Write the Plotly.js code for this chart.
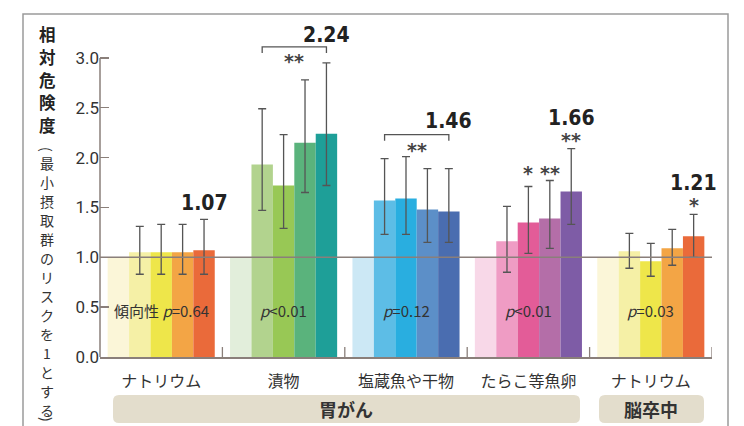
<!DOCTYPE html>
<html><head><meta charset="utf-8">
<script src="https://cdn.plot.ly/plotly-3.0.1.min.js"></script>
<style>html,body{margin:0;padding:0;background:#fff;}#chart{width:744px;height:426px;}</style>
</head><body><div id="chart"></div>
<script>
// ---- data ----
const groupLabels = ['ナトリウム', '漬物', '塩蔵魚や干物', 'たらこ等魚卵', 'ナトリウム'];
const diseases = ['胃がん', '脳卒中'];
const titleMain = '相対危険度';
const titleNote = '最小摂取群のリスクを1とする';
const trendText = ['傾向性 <i>p</i>=0.64', '<i>p</i>&lt;0.01', '<i>p</i>=0.12', '<i>p</i>&lt;0.01', '<i>p</i>=0.03'];
// relative risk by intake quintile (q1 = reference)
const q1 = [1.00, 1.00, 1.00, 1.00, 1.00];
const q2 = [1.05, 1.93, 1.57, 1.16, 1.06];
const q3 = [1.05, 1.72, 1.59, 1.35, 0.96];
const q4 = [1.05, 2.15, 1.48, 1.39, 1.09];
const q5 = [1.07, 2.24, 1.46, 1.66, 1.21];
// 95% CI upper / lower
const hi2 = [1.31, 2.49, 1.99, 1.51, 1.24];
const hi3 = [1.33, 2.23, 2.01, 1.71, 1.14];
const hi4 = [1.33, 2.78, 1.89, 1.77, 1.28];
const hi5 = [1.38, 2.95, 1.89, 2.09, 1.43];
const lo2 = [0.83, 1.47, 1.23, 0.85, 0.89];
const lo3 = [0.83, 1.29, 1.23, 1.04, 0.81];
const lo4 = [0.83, 1.65, 1.15, 1.09, 0.92];
const lo5 = [0.83, 1.72, 1.15, 1.33, 1.00];
const yTicks = [0, 0.5, 1.0, 1.5, 2.0, 2.5, 3.0];

// ---- styles ----
const sodiumColors = ['#fbf6d8', '#f5f0a6', '#eee64a', '#f3a545', '#ea6a3a'];
const pickleColors = ['#e2eedb', '#b2d38e', '#98c855', '#5ab37c', '#1e9f98'];
const fishColors   = ['#cce8f5', '#5dbde6', '#29aee0', '#5c8fc8', '#4a6db0'];
const roeColors    = ['#f8d8e8', '#ef9cc4', '#e35c98', '#b46ea8', '#7e5ca6'];
const groupColors = [sodiumColors, pickleColors, fishColors, roeColors, sodiumColors];

const rr = [q1, q2, q3, q4, q5];
const hi = [null, hi2, hi3, hi4, hi5];
const lo = [null, lo2, lo3, lo4, lo5];
const xs = groupLabels.map((_, g) => g);
const BARGAP = 0.125;
const barW = (1 - BARGAP) / 5;
const off = i => (i - 2) * barW;

const numFont = 'Roboto, "Liberation Sans", sans-serif';
const boldNum = '"Liberation Sans Narrow", "DejaVu Sans Condensed", Roboto, sans-serif';
const jpFont = '"Noto Sans CJK JP", "Noto Sans", sans-serif';
const axisCol = '#8a7f7a';
const txtCol = '#333333';

const traces = rr.map((vals, i) => {
  const t = {
    type: 'bar', x: xs, y: vals,
    marker: {color: groupColors.map(c => c[i]), line: {width: 0}},
    hoverinfo: 'skip'
  };
  if (i > 0) {
    t.error_y = {
      type: 'data', symmetric: false,
      array: vals.map((v, g) => hi[i][g] - v),
      arrayminus: vals.map((v, g) => v - lo[i][g]),
      color: '#555555', thickness: 1.3, width: 4
    };
  }
  return t;
});

// ---- geometry helpers (paper coordinates) ----
const L = 100, R = 712, T = 18, B = 357;
const px2x = p => (p - L) / (R - L);
const px2y = p => (B - p) / (B - T);

function roundRect(x0p, x1p, y0p, y1p, r) {
  const x0 = px2x(x0p), x1 = px2x(x1p), yt = px2y(y0p), yb = px2y(y1p);
  const rx = r / (R - L), ry = r / (B - T);
  return `M${x0 + rx},${yt} L${x1 - rx},${yt} Q${x1},${yt} ${x1},${yt - ry} L${x1},${yb + ry} Q${x1},${yb} ${x1 - rx},${yb} L${x0 + rx},${yb} Q${x0},${yb} ${x0},${yb + ry} L${x0},${yt - ry} Q${x0},${yt} ${x0 + rx},${yt} Z`;
}

const shapes = [];
// frame
shapes.push({type: 'rect', xref: 'paper', yref: 'paper', x0: px2x(23), x1: px2x(728), y0: -0.4, y1: px2y(14),
  line: {color: '#9a9a9a', width: 1.5}, layer: 'below'});
// y axis line (0 to 3.0 only)
shapes.push({type: 'line', xref: 'paper', yref: 'y', x0: 0, x1: 0, y0: 0, y1: 3, line: {color: axisCol, width: 1.5}, layer: 'above'});
// reference line at RR = 1
shapes.push({type: 'line', xref: 'paper', yref: 'y', x0: 0, x1: 1, y0: 1, y1: 1, line: {color: axisCol, width: 1.5}, layer: 'above'});
// group separators
for (let g = 0; g < groupLabels.length; g++) {
  shapes.push({type: 'line', xref: 'x', yref: 'y', x0: g + 0.5, x1: g + 0.5, y0: 0, y1: 0.1, line: {color: axisCol, width: 1.3}, layer: 'above'});
}
// significance brackets over quintiles 2-5
const brackets = [{g: 1, y: 3.11}, {g: 2, y: 2.23}];
brackets.forEach(b => {
  const x0 = b.g + off(1), x1 = b.g + off(4), d = 0.06;
  shapes.push({type: 'path', xref: 'x', yref: 'y',
    path: `M${x0},${b.y - d} L${x0},${b.y} L${x1},${b.y} L${x1},${b.y - d}`,
    line: {color: '#555555', width: 1.3}, layer: 'above'});
});
// disease bands
shapes.push({type: 'path', xref: 'paper', yref: 'paper', path: roundRect(113, 580, 395, 423, 6), fillcolor: '#e3ddcc', line: {width: 0}, layer: 'below'});
shapes.push({type: 'path', xref: 'paper', yref: 'paper', path: roundRect(599, 704, 395, 423, 6), fillcolor: '#e3ddcc', line: {width: 0}, layer: 'below'});

const annotations = [];
// y-axis title (vertical, one character per annotation)
const titleX = px2x(47);
titleMain.split('').forEach((ch, k) => annotations.push({xref: 'paper', yref: 'paper', x: titleX, y: px2y(34 + k * 22.8),
  xanchor: 'center', yanchor: 'middle', text: '<b>' + ch + '</b>', showarrow: false,
  font: {family: jpFont, size: 16.5, color: '#222'}}));
annotations.push({xref: 'paper', yref: 'paper', x: titleX, y: px2y(149), xanchor: 'center', yanchor: 'middle',
  text: '(', textangle: 90, showarrow: false, font: {family: jpFont, size: 14, color: txtCol}});
titleNote.split('').forEach((ch, k) => annotations.push({xref: 'paper', yref: 'paper', x: titleX, y: px2y(163 + k * 19.0),
  xanchor: 'center', yanchor: 'middle', text: ch, showarrow: false,
  font: {family: jpFont, size: 14, color: txtCol}}));
annotations.push({xref: 'paper', yref: 'paper', x: titleX, y: px2y(419), xanchor: 'center', yanchor: 'middle',
  text: ')', textangle: 90, showarrow: false, font: {family: jpFont, size: 14, color: txtCol}});
// trend p values
trendText.forEach((t, g) => annotations.push({xref: 'x', yref: 'y', x: g, y: 0.47, text: t, showarrow: false,
  font: {family: '"Noto Sans CJK JP", Roboto, sans-serif', size: 15, color: txtCol}}));
// highest-quintile RR labels
const labelShift = [16, 28, 48, 31, 31];
q5.forEach((v, g) => annotations.push({xref: 'x', yref: 'y', x: g + off(4), y: hi5[g], yshift: labelShift[g],
  yanchor: 'middle', text: '<b>' + v.toFixed(2) + '</b>', showarrow: false,
  font: {family: boldNum, size: 21, color: '#222'}}));
// significance stars
const stars = [
  {x: 1 + (off(1) + off(4)) / 2, y: 3.11, s: -11, t: '**'},
  {x: 2 + (off(1) + off(4)) / 2, y: 2.23, s: -12, t: '**'},
  {x: 3 + off(2), y: hi3[3], s: 17, t: '*'},
  {x: 3 + off(3), y: hi3[3], s: 17, t: '**'},
  {x: 3 + off(4), y: hi5[3], s: 12, t: '**'},
  {x: 4 + off(4), y: hi5[4], s: 12, t: '*'}
];
stars.forEach(s => annotations.push({xref: 'x', yref: 'y', x: s.x, y: s.y, yshift: s.s - 3, yanchor: 'middle',
  text: '<b>' + s.t + '</b>', showarrow: false, font: {family: 'DejaVu Sans', size: 19, color: '#444'}}));
// disease labels
annotations.push({xref: 'paper', yref: 'paper', x: px2x(346), y: px2y(409), xanchor: 'center', yanchor: 'middle', text: '<b>' + diseases[0] + '</b>', showarrow: false,
  font: {family: jpFont, size: 18, color: txtCol}});
annotations.push({xref: 'paper', yref: 'paper', x: px2x(651), y: px2y(409), xanchor: 'center', yanchor: 'middle', text: '<b>' + diseases[1] + '</b>', showarrow: false,
  font: {family: jpFont, size: 18, color: txtCol}});

const layout = {
  width: 744, height: 426,
  margin: {l: L, r: 744 - R, t: T, b: 426 - B, pad: 0},
  paper_bgcolor: '#ffffff', plot_bgcolor: '#ffffff',
  showlegend: false,
  barmode: 'group', bargap: BARGAP, bargroupgap: 0,
  xaxis: {range: [-0.5, 4.5], tickvals: xs, ticktext: groupLabels, showgrid: false, zeroline: false,
    showline: true, linecolor: axisCol, linewidth: 2, ticks: '', ticklabelstandoff: 9,
    tickfont: {family: jpFont, size: 16, color: txtCol}},
  yaxis: {range: [0, 3.4], tickvals: yTicks, ticktext: yTicks.map(v => v.toFixed(1)), showgrid: false, zeroline: false,
    showline: false, ticks: 'inside', ticklen: 9, tickwidth: 1.3, tickcolor: axisCol,
    tickfont: {family: numFont, size: 17, color: txtCol}},
  shapes: shapes,
  annotations: annotations
};

Plotly.newPlot('chart', traces, layout, {displayModeBar: false, staticPlot: true});
</script>
</body></html>
